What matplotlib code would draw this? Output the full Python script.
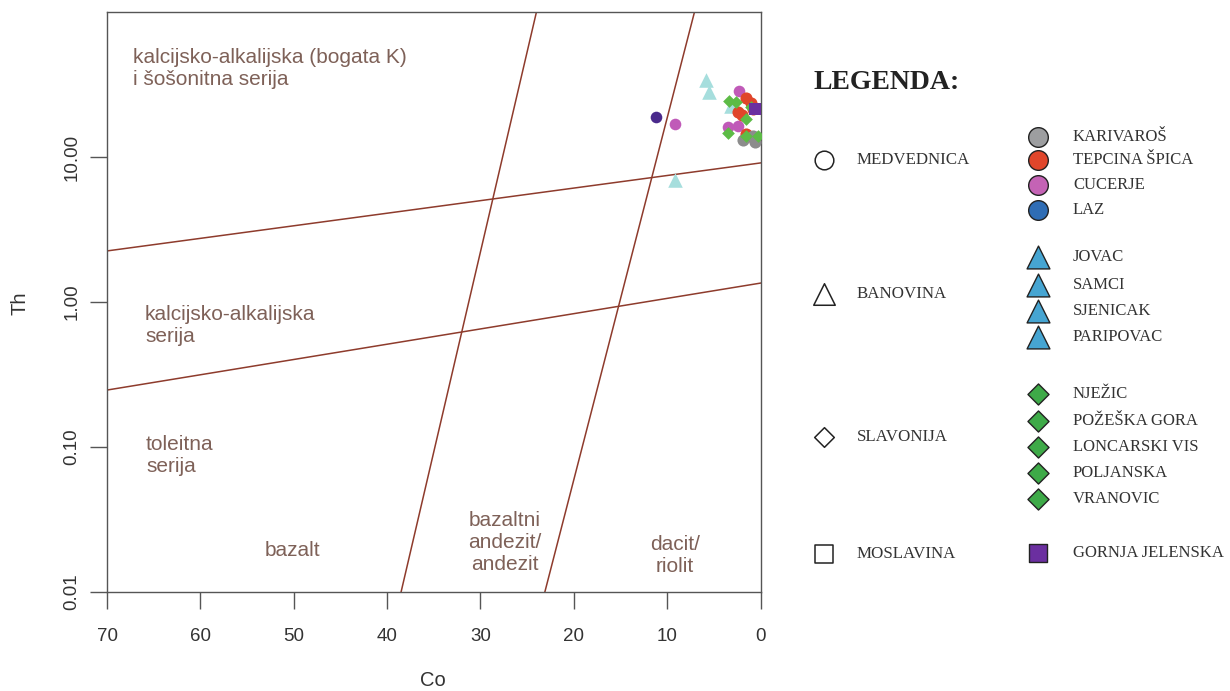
import matplotlib
matplotlib.use("Agg")
import matplotlib.pyplot as plt
import numpy as np

# ---------------- data ----------------
# boundary lines (Co, Th)
upper_co = [70, 0]
upper_th = [2.25, 9.1]
lower_co = [70, 0]
lower_th = [0.247, 1.35]
steep1_co = [38.5, 24.0]
steep1_th = [0.01, 100]
steep2_co = [23.1, 7.07]
steep2_th = [0.01, 100]

# samples
karivaros_co = [1.9, 0.7, 0.6, 0.8]
karivaros_th = [13.0, 13.6, 12.6, 14.0]
tepcina_co = [1.5, 1.0, 2.4, 2.0, 0.8, 1.6, 1.2]
tepcina_th = [25.5, 23.5, 20.5, 19.5, 21.5, 14.4, 14.0]
cucerje_co = [2.3, 9.2, 3.5, 2.4]
cucerje_th = [28.5, 16.9, 16.0, 16.4]
laz_co = [11.2]
laz_th = [19.0]
banovina_co = [5.8, 5.5, 9.2, 3.2]
banovina_th = [34.0, 28.0, 6.9, 22.5]
slavonija_co = [3.4, 2.6, 1.6, 3.5, 1.5, 0.3, 1.0]
slavonija_th = [24.5, 24.0, 18.3, 14.6, 14.0, 14.0, 22.0]
gornja_co = [0.6]
gornja_th = [21.5]

# legend
groups = ["MEDVEDNICA", "BANOVINA", "SLAVONIJA", "MOSLAVINA"]
group_markers = ["o", "^", "D", "s"]
sub_labels = [["KARIVAROŠ", "TEPCINA ŠPICA", "CUCERJE", "LAZ"],
              ["JOVAC", "SAMCI", "SJENICAK", "PARIPOVAC"],
              ["NJEŽIC", "POŽEŠKA GORA", "LONCARSKI VIS", "POLJANSKA", "VRANOVIC"],
              ["GORNJA JELENSKA"]]
sub_colors = [["#9d9ea0", "#e0462b", "#c463b5", "#2f6db5"],
              ["#46a5d2"] * 4,
              ["#3eaa48"] * 5,
              ["#6b2fa0"]]

region_labels = ["kalcijsko-alkalijska (bogata K)\ni šošonitna serija",
                 "kalcijsko-alkalijska\nserija",
                 "toleitna\nserija",
                 "bazalt",
                 "bazaltni\nandezit/\nandezit",
                 "dacit/\nriolit"]

x_ticks = [70, 60, 50, 40, 30, 20, 10, 0]
y_ticks = [0.01, 0.1, 1, 10]
y_ticklabels = ["0.01", "0.10", "1.00", "10.00"]

# ---------------- figure ----------------
W, H = 1230, 691
fig = plt.figure(figsize=(W / 100, H / 100), dpi=100)
ax = fig.add_axes([107 / W, 1 - 592 / H, (760.5 - 107) / W, (592 - 12) / H])

line_c = "#8e3b2c"
text_c = "#7e6158"
axis_c = "#555555"

ax.set_xlim(70, 0)
ax.set_yscale("log")
ax.set_ylim(0.01, 100)

for cx, cy in [(upper_co, upper_th), (lower_co, lower_th),
               (steep1_co, steep1_th), (steep2_co, steep2_th)]:
    ax.plot(cx, cy, color=line_c, lw=1.1, zorder=1)

ax.scatter(banovina_co, banovina_th, marker="^", s=110, color="#a6dedd", linewidths=0, zorder=3)
ax.scatter(cucerje_co, cucerje_th, marker="o", s=70, color="#c05ab8", linewidths=0, zorder=3)
ax.scatter(tepcina_co, tepcina_th, marker="o", s=76, color="#e0452a", linewidths=0, zorder=3)
ax.scatter(karivaros_co, karivaros_th, marker="o", s=76, color="#8c8c8c", linewidths=0, zorder=3)
ax.scatter(laz_co, laz_th, marker="o", s=70, color="#4a2a8c", linewidths=0, zorder=3)
ax.scatter(slavonija_co, slavonija_th, marker="D", s=42, color="#5dbb46", linewidths=0, zorder=4)
ax.scatter(gornja_co, gornja_th, marker="s", s=85, color="#6a2fa0", linewidths=0, zorder=4)

ax.set_xticks(x_ticks)
ax.set_xticklabels([str(t) for t in x_ticks])
ax.set_yticks(y_ticks)
ax.set_yticklabels(y_ticklabels, rotation=90, va="center")
ax.minorticks_off()
ax.tick_params(axis="both", direction="out", length=12, width=1, color=axis_c,
               labelcolor="#333333", labelsize=13.5)
ax.tick_params(axis="x", pad=14)
ax.tick_params(axis="y", pad=7)
for sp in ax.spines.values():
    sp.set_color(axis_c)
    sp.set_linewidth(1)

fig.text(433 / W, 1 - 681 / H, "Co", ha="center", va="center", fontsize=14.5, color="#333333",
         family="Liberation Sans")
fig.text(20 / W, 1 - 303 / H, "Th", ha="center", va="center", rotation=90, fontsize=14.5,
         color="#333333", family="Liberation Sans")
for lab in ax.get_xticklabels() + ax.get_yticklabels():
    lab.set_family("Liberation Sans")

# region labels (positioned in axes pixel space)
def axpt(px, py):
    return ((px - 107) / (760.5 - 107), (592 - py) / (592 - 12))

fs_r = 15
pos = [(133, 68, "left"), (145, 325, "left"), (146, 455, "left"),
       (292, 551, "center"), (505, 543, "center"), (675, 555, "center")]
for (px, py, ha), txt in zip(pos, region_labels):
    x, y = axpt(px, py)
    ax.text(x, y, txt, transform=ax.transAxes, ha=ha, va="center", fontsize=fs_r,
            color=text_c, family="Liberation Sans", linespacing=1.2, multialignment=ha)

# ---------------- legend ----------------
lg = fig.add_axes([0, 0, 1, 1], facecolor="none")
lg.set_xlim(0, W)
lg.set_ylim(H, 0)
lg.axis("off")

lg.text(813, 82, "LEGENDA:", fontsize=20, fontweight="bold", family="Liberation Serif",
        color="#222222", va="center", ha="left")

group_y = [160, 294, 437, 554]
sub_y = [[137, 160, 185, 210], [257, 285, 311, 337],
         [394, 421, 447, 473, 499], [553]]
group_sizes = {"o": 180, "^": 240, "D": 100, "s": 160}
sub_sizes = {"o": 200, "^": 270, "D": 115, "s": 150}
for g, m, gy, labs, cols, ys in zip(groups, group_markers, group_y, sub_labels, sub_colors, sub_y):
    lg.scatter([824], [gy], marker=m, s=group_sizes[m], facecolor="white",
               edgecolor="#222222", linewidths=1.1)
    lg.text(857, gy, g, fontsize=12.2, family="Liberation Serif", color="#333333",
            va="center", ha="left")
    for lab, c, yy in zip(labs, cols, ys):
        lg.scatter([1038], [yy], marker=m, s=sub_sizes[m], facecolor=c,
                   edgecolor="#222222", linewidths=1.0)
        lg.text(1073, yy, lab, fontsize=12, family="Liberation Serif", color="#333333",
                va="center", ha="left")

fig.savefig("out.png", dpi=100)
